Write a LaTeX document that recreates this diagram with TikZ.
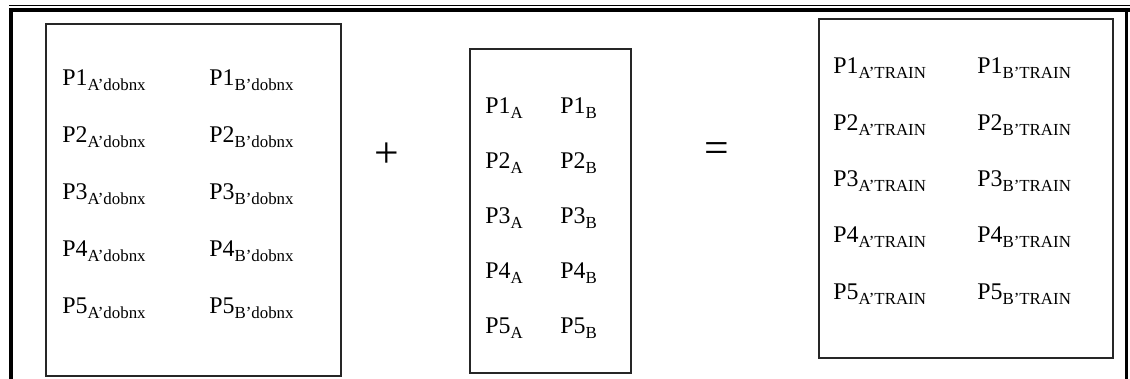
\documentclass[tikz,border=0pt]{standalone}
\usepackage{fontspec}
\setmainfont{Liberation Serif}
\newcommand{\lowtxt}[1]{\raisebox{-0.45ex}{\fontsize{12}{13}\selectfont #1}}
\begin{document}
\begin{tikzpicture}[x=0.025cm, y=-0.025cm, font=\fontsize{17}{19}\selectfont,
		box/.style={draw=black!85, line width=0.06cm},
		lbl/.style={anchor=base west, inner sep=0pt},
		sign/.style={inner sep=0pt, font=\fontsize{31}{33}\selectfont}]
		\useasboundingbox (0,0) rectangle (1130,379);
		% outer frame
		\draw[line width=0.03cm] (9,5.5) -- (1130,5.5);
		\draw[line width=0.08cm] (9,10) -- (1130,10);
		\draw[line width=0.1cm] (11,10) -- (11,379);
		\draw[line width=0.08cm] (1126.5,10) -- (1126.5,379);
		% the three boxes
		\coordinate (L1) at (46,24);  \coordinate (R1) at (341,376);
		\coordinate (L2) at (470,49); \coordinate (R2) at (631,373);
		\coordinate (L3) at (819,19); \coordinate (R3) at (1113,358);
		\draw[box] (L1) rectangle (R1);
		\draw[box] (L2) rectangle (R2);
		\draw[box] (L3) rectangle (R3);
		% texts of box 1
		\foreach \i in {1,...,5} {
			\node[lbl] (dA\i) at (62,{86+57*(\i-1)}) {P\i\lowtxt{A’dobnx}};
			\node[lbl] (dB\i) at (209,{86+57*(\i-1)}) {P\i\lowtxt{B’dobnx}};
		}
		% texts of box 2
		\foreach \i in {1,...,5} {
			\node[lbl] (pA\i) at (485,{114+55*(\i-1)}) {P\i\lowtxt{A}};
			\node[lbl] (pB\i) at (560,{114+55*(\i-1)}) {P\i\lowtxt{B}};
		}
		% texts of box 3
		\foreach \i in {1,...,5} {
			\node[lbl] (tA\i) at (833,{74+56.3*(\i-1)}) {P\i\lowtxt{A’TRAIN}};
			\node[lbl] (tB\i) at (977,{74+56.3*(\i-1)}) {P\i\lowtxt{B’TRAIN}};
		}
		% signs
		\node[sign] (plus) at (387,155) {+};
		\node[sign] (eq) at (717,153) {=};
	\end{tikzpicture}
\end{document}
